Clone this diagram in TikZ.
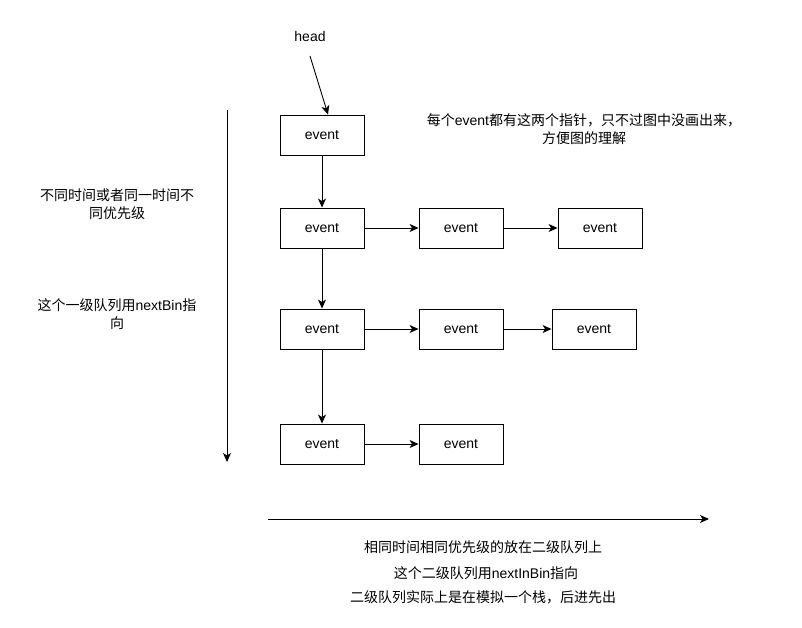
\documentclass[tikz,border=0pt]{standalone}
\usepackage{fontspec}
\setmainfont{Liberation Sans}
\newfontfamily\cjk{Noto Sans CJK SC}
\usetikzlibrary{arrows.meta}
\begin{document}
\begin{tikzpicture}[x=1pt,y=-1pt,
  ev/.style={draw,line width=0.9pt,minimum width=84pt,minimum height=40pt,inner sep=0pt,font=\fontsize{14pt}{16pt}\selectfont},
  arr/.style={line width=0.9pt,-{Stealth[length=9pt,width=8pt,inset=2.5pt]}},
  lbl/.style={font=\fontsize{14pt}{18pt}\selectfont,align=center,inner sep=0pt}]
\useasboundingbox (0,0) rectangle (802,628);
\node[lbl] (head) at (310,36) {head};
\coordinate (hs) at (310,56);
\node[ev] (e1) at (322,135) {event};
\node[ev] (e21) at (322,228) {event};
\node[ev] (e22) at (461,228) {event};
\node[ev] (e23) at (600,228) {event};
\node[ev] (e31) at (322,329) {event};
\node[ev] (e32) at (461,329) {event};
\node[ev] (e33) at (594,329) {event};
\node[ev] (e41) at (322,444) {event};
\node[ev] (e42) at (461,444) {event};
\draw[arr] (hs) -- (e1.north -| 328,0);
\draw[arr] (e1) -- (e21);
\draw[arr] (e21) -- (e31);
\draw[arr] (e31) -- (e41);
\draw[arr] (e21) -- (e22);
\draw[arr] (e22) -- (e23);
\draw[arr] (e31) -- (e32);
\draw[arr] (e32) -- (e33);
\draw[arr] (e41) -- (e42);
\coordinate (vs) at (227,110);
\coordinate (ve) at (227,462);
\draw[arr] (vs) -- (ve);
\coordinate (hs2) at (268,519);
\coordinate (he2) at (709,519);
\draw[arr] (hs2) -- (he2);
\node[lbl] (t1) at (584,129) {{\cjk 每个}event{\cjk 都有这两个指针，只不过图中没画出来，}\\{\cjk 方便图的理解}};
\node[lbl] (t2) at (117,204) {{\cjk 不同时间或者同一时间不}\\{\cjk 同优先级}};
\node[lbl] (t3) at (117,314) {{\cjk 这个一级队列用}nextBin{\cjk 指}\\{\cjk 向}};
\node[lbl] (b1) at (483,547) {\cjk 相同时间相同优先级的放在二级队列上};
\node[lbl] (b2) at (486,573) {{\cjk 这个二级队列用}nextInBin{\cjk 指向}};
\node[lbl] (b3) at (483,597) {\cjk 二级队列实际上是在模拟一个栈，后进先出};
\end{tikzpicture}
\end{document}
